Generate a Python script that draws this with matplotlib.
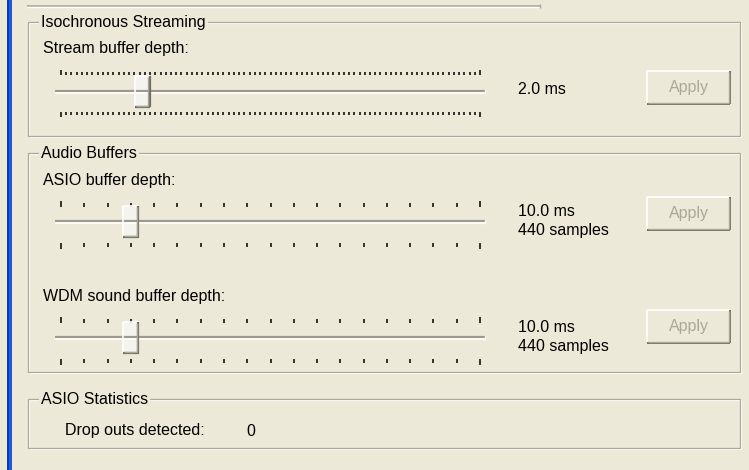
import matplotlib
matplotlib.use("Agg")
import matplotlib.pyplot as plt
from matplotlib.patches import Rectangle
import numpy as np

# ---------------- data ----------------
group_titles = ["Isochronous Streaming", "Audio Buffers", "ASIO Statistics"]
slider_labels = ["Stream buffer depth:", "ASIO buffer depth:", "WDM sound buffer depth:"]
slider_tick_counts = [81, 19, 19]
slider_positions = [15.5, 3, 3]          # thumb position in tick steps
value_lines = [["2.0 ms"], ["10.0 ms", "440 samples"], ["10.0 ms", "440 samples"]]
button_labels = ["Apply", "Apply", "Apply"]
stat_label = "Drop outs detected:"
stat_value = "0"

# ---------------- style / layout ----------------
W, H = 749, 470
BG = "#ECE9D8"
GREY = "#ACA899"
DARK = "#716F64"
WHITE = "#FFFFFF"
FONT = "Liberation Sans"
FS = 11.5

fig = plt.figure(figsize=(W / 100, H / 100), dpi=100, facecolor=BG)
ax = fig.add_axes([0, 0, 1, 1])
ax.set_xlim(0, W)
ax.set_ylim(H, 0)
ax.axis("off")
ax.set_facecolor(BG)


def hline(x0, x1, y, c, lw=1.0):
    ax.plot([x0, x1], [y, y], color=c, lw=lw, solid_capstyle="butt")


def vline(x, y0, y1, c, lw=1.0):
    ax.plot([x, x], [y0, y1], color=c, lw=lw, solid_capstyle="butt")


def text(x, y, s, color="#000000", ha="left", bg=None):
    t = ax.text(x, y, s, fontsize=FS, family=FONT, color=color, ha=ha, va="center")
    if bg:
        t.set_bbox(dict(facecolor=bg, edgecolor="none", pad=1.5))
    return t


# left blue bar
ax.add_patch(Rectangle((7, 0), 5, H, facecolor="#2458D8", edgecolor="none"))
ax.add_patch(Rectangle((7, 0), 1.5, H, facecolor="#0B3CB8", edgecolor="none"))

# top separator line
hline(27, 540, 5.5, GREY, 1.2)
hline(27, 540, 7, WHITE, 1.0)
vline(540, 4, 7.5, GREY, 1.0)


def group_box(x0, y0, x1, y1, title):
    # etched frame
    ax.add_patch(Rectangle((x0 + 1, y0 + 1), x1 - x0, y1 - y0, fill=False,
                           edgecolor=WHITE, lw=0.9))
    ax.add_patch(Rectangle((x0, y0), x1 - x0, y1 - y0, fill=False,
                           edgecolor=GREY, lw=0.9))
    text(x0 + 13, y0, title, bg=BG)


boxes = [(28, 22, 740, 136), (28, 153, 740, 372), (28, 399, 740, 448)]
for (b, t) in zip(boxes, group_titles):
    group_box(*b, t)


def slider(label_y, track_y, n_ticks, pos, dense):
    x_first, x_last = 61, 480
    xs = np.linspace(x_first, x_last, n_ticks)
    top = track_y - 20 if dense else track_y - 19
    bot = track_y + 20 if dense else track_y + 21
    th = 4 if dense else 5
    for i, x in enumerate(xs):
        ext = 2 if i in (0, n_ticks - 1) else 0
        vline(x, top - ext, top + th - 1, "#000000", 1.1)
        vline(x, bot, bot + th + ext - 1, "#000000", 1.1)
    # track
    hline(55, 485, track_y - 0.8, "#9D9A8C", 1.6)
    hline(55, 485, track_y + 1.2, WHITE, 1.2)
    vline(485, track_y - 2, track_y + 2, WHITE, 1.0)
    # thumb
    cx = x_first + (x_last - x_first) * pos / (n_ticks - 1)
    tw, tht = 15, 31
    x0, y0 = cx - tw / 2, track_y - 16
    ax.add_patch(Rectangle((x0, y0), tw, tht, facecolor="#F4F3EE", edgecolor="none"))
    hline(x0, x0 + tw, y0, WHITE, 1.2)
    vline(x0, y0, y0 + tht, WHITE, 1.2)
    vline(x0 + tw, y0, y0 + tht, DARK, 1.6)
    hline(x0, x0 + tw + 0.8, y0 + tht, DARK, 1.6)
    vline(x0 + tw - 1.5, y0 + 1, y0 + tht - 1.5, GREY, 1.0)
    hline(x0 + 1, x0 + tw - 1.5, y0 + tht - 1.5, GREY, 1.0)


def button(x0, y0, x1, y1, label):
    ax.add_patch(Rectangle((x0, y0), x1 - x0, y1 - y0, facecolor=BG, edgecolor="none"))
    hline(x0, x1, y0, WHITE, 1.2)
    vline(x0, y0, y1, WHITE, 1.2)
    hline(x0, x1, y1, DARK, 1.4)
    vline(x1, y0, y1, DARK, 1.4)
    hline(x0 + 1, x1 - 1.5, y1 - 1.5, GREY, 1.0)
    vline(x1 - 1.5, y0 + 1, y1 - 1.5, GREY, 1.0)
    text((x0 + x1) / 2, (y0 + y1) / 2, label, color=GREY, ha="center")


label_ys = [48, 181, 296]
track_ys = [92, 222, 338]
btn_boxes = [(647, 71, 730, 104), (647, 197, 730, 230), (647, 310, 730, 343)]
for i in range(3):
    text(43, label_ys[i], slider_labels[i])
    slider(label_ys[i], track_ys[i], slider_tick_counts[i], slider_positions[i], i == 0)
    lines = value_lines[i]
    if len(lines) == 1:
        text(518, track_ys[i] - 3, lines[0])
    else:
        text(518, track_ys[i] - 10, lines[0])
        text(518, track_ys[i] + 9, lines[1])
    button(*btn_boxes[i], button_labels[i])

text(65, 431, stat_label)
text(246, 431, stat_value)

fig.savefig("out.png", dpi=100, facecolor=BG)
